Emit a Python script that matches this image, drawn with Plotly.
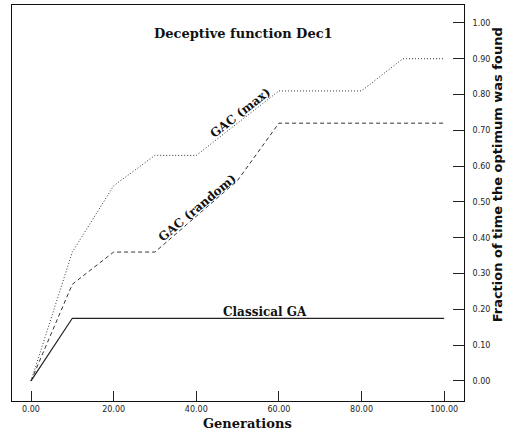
import plotly.graph_objects as go

# Generations sampled every 10 steps
generations = [0, 10, 20, 30, 40, 50, 60, 70, 80, 90, 100]

# Fraction of runs in which the optimum was found
gac_max = [0.0, 0.36, 0.545, 0.63, 0.63, 0.72, 0.81, 0.81, 0.81, 0.90, 0.90]
gac_random = [0.0, 0.27, 0.36, 0.36, 0.46, 0.56, 0.72, 0.72, 0.72, 0.72, 0.72]
classical_ga = [0.0, 0.175, 0.175, 0.175, 0.175, 0.175, 0.175, 0.175, 0.175, 0.175, 0.175]

x_ticks = [0, 20, 40, 60, 80, 100]
y_ticks = [0.0, 0.1, 0.2, 0.3, 0.4, 0.5, 0.6, 0.7, 0.8, 0.9, 1.0]

serif_bold = "DejaVu Serif"
tick_font = dict(family="DejaVu Sans", size=8, color="#222")

fig = go.Figure()
fig.add_trace(go.Scatter(x=generations, y=gac_max, mode="lines",
                         line=dict(color="#333", width=1, dash="1px,2px"), name="GAC (max)"))
fig.add_trace(go.Scatter(x=generations, y=gac_random, mode="lines",
                         line=dict(color="#333", width=1, dash="4px,3px"), name="GAC (random)"))
fig.add_trace(go.Scatter(x=generations, y=classical_ga, mode="lines",
                         line=dict(color="#222", width=1.2), name="Classical GA"))


def label(text, x, y, size=12, angle=0, ref="data", family=serif_bold):
    d = dict(text=f"<b>{text}</b>", x=x, y=y, showarrow=False, textangle=angle,
             xanchor="center", yanchor="middle",
             font=dict(family=family, size=size, color="#111"))
    if ref == "paper":
        d.update(xref="paper", yref="paper")
    return d


annotations = [
    label("Deceptive function Dec1", 0.513, 0.929, size=13, ref="paper"),
    label("Generations", 0.52, -0.058, size=13, ref="paper"),
    label("Fraction of time the optimum was found", 1.074, 0.571, size=13, angle=-90,
          ref="paper", family="DejaVu Sans"),
    label("Classical GA", 56.7, 0.193),
    label("GAC (max)", 50.6, 0.749, angle=-38),
    label("GAC (random)", 40.2, 0.483, angle=-40),
]

fig.update_layout(
    width=506, height=432,
    margin=dict(l=12, r=42, t=5, b=31),
    paper_bgcolor="white", plot_bgcolor="white",
    showlegend=False,
    annotations=annotations,
    xaxis=dict(range=[-4.6, 104.8], tickvals=x_ticks, tickformat=".2f",
               ticks="inside", ticklen=10, tickcolor="#222", tickwidth=1,
               showgrid=False, zeroline=False, showline=True, linecolor="#111",
               linewidth=1, mirror=True, tickfont=tick_font),
    yaxis=dict(range=[-0.056, 1.05], tickvals=y_ticks, tickformat=".2f", side="right",
               ticks="inside", ticklen=11, tickcolor="#222", tickwidth=1,
               ticklabelstandoff=6,
               showgrid=False, zeroline=False, showline=True, linecolor="#111",
               linewidth=1, mirror=True, tickfont=tick_font),
)

fig.write_html("out.html")
